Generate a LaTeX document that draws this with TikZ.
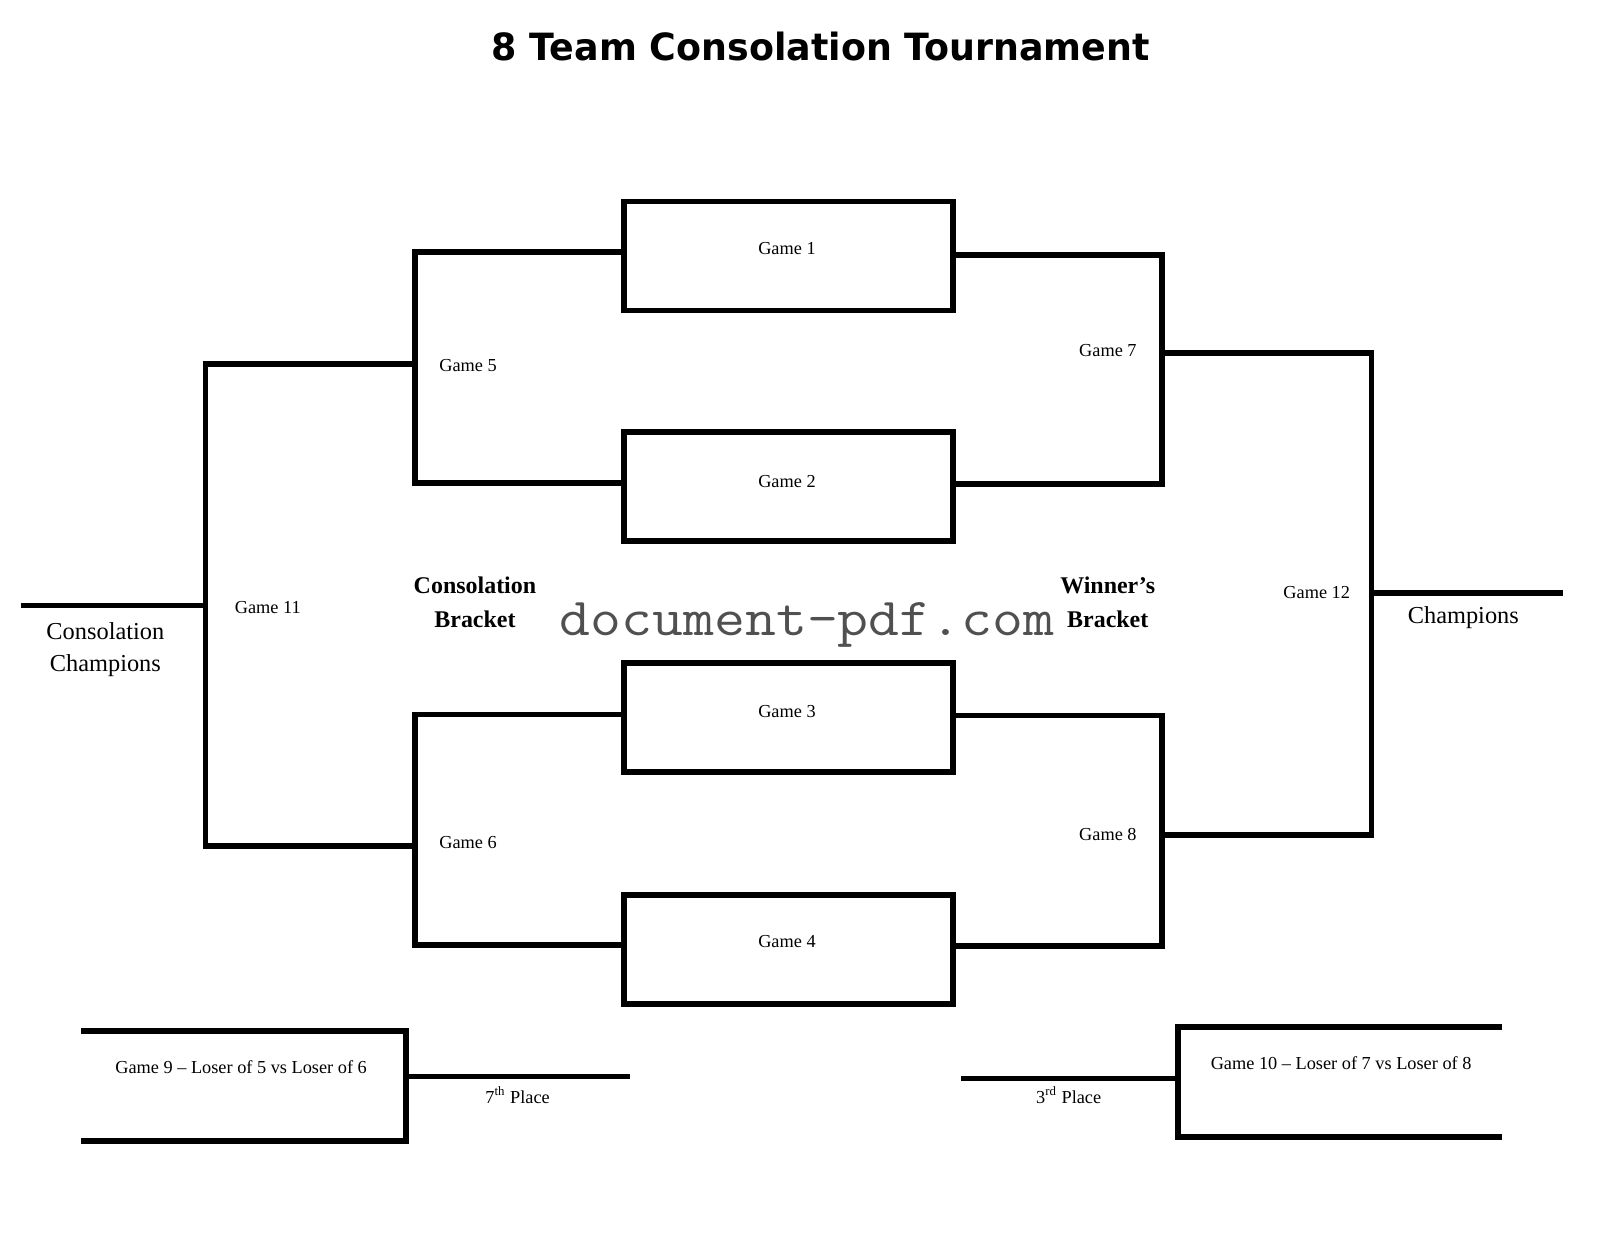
\documentclass[tikz,border=0pt]{standalone}
\usepackage{fontspec}
\setmainfont{Liberation Serif}
\newfontfamily\titlefont{DejaVu Sans}
\definecolor{wmgray}{RGB}{80,80,80}
\begin{document}
\begin{tikzpicture}[x=0.5pt,y=-0.5pt,
  line/.style={line width=2.8pt,line join=miter},
  gbox/.style={draw,line width=2.8pt,rectangle,inner sep=0pt,minimum width=160pt,minimum height=53pt},
  lbl/.style={font=\fontsize{8.9pt}{10pt}\selectfont,inner sep=0pt},
  big/.style={font=\fontsize{11.85pt}{15.5pt}\selectfont,inner sep=0pt,align=center},
  bbig/.style={font=\fontsize{11.65pt}{16.5pt}\selectfont\bfseries,inner sep=0pt,align=center}]
\useasboundingbox (0,0) rectangle (1568,1212);

% title
\node[inner sep=0pt,anchor=base] (title) at (798.5,59)
  {\scalebox{0.97}[1]{\titlefont\bfseries\fontsize{18.25pt}{20pt}\selectfont 8 Team Consolation Tournament}};

% game boxes
\node[gbox] (g1) at (767,249) {};
\node[gbox] (g2) at (767,473) {};
\node[gbox] (g3) at (767,698) {};
\node[gbox] (g4) at (767,923.5) {};
\node[lbl,anchor=base] (t1) at (765.5,248) {Game 1};
\node[lbl,anchor=base] (t2) at (765.5,474) {Game 2};
\node[lbl,anchor=base] (t3) at (765.5,698) {Game 3};
\node[lbl,anchor=base] (t4) at (765.5,922) {Game 4};

% bracket corners
\coordinate (g5t) at (404,245);  \coordinate (g5b) at (404,470);
\coordinate (g6t) at (404,695);  \coordinate (g6b) at (404,919);
\coordinate (g7t) at (1130,248); \coordinate (g7b) at (1130,471);
\coordinate (g8t) at (1130,696); \coordinate (g8b) at (1130,920);
\coordinate (g11t) at (200,354); \coordinate (g11b) at (200,823);
\coordinate (g12t) at (1334,343); \coordinate (g12b) at (1334,812);
\coordinate (cc) at (20,589);
\coordinate (ch) at (1520.5,577);

% consolation side
\draw[line] (g1.west |- g5t) -- (g5t) -- (g5b) -- (g2.west |- g5b);
\draw[line] (g3.west |- g6t) -- (g6t) -- (g6b) -- (g4.west |- g6b);
\draw[line] (g5t |- g11t) -- (g11t) -- (g11b) -- (g6t |- g11b);
\draw[line] (cc) -- (g11t |- cc);

% winner side
\draw[line] (g1.east |- g7t) -- (g7t) -- (g7b) -- (g2.east |- g7b);
\draw[line] (g3.east |- g8t) -- (g8t) -- (g8b) -- (g4.east |- g8b);
\draw[line] (g7t |- g12t) -- (g12t) -- (g12b) -- (g8t |- g12b);
\draw[line] (g12t |- ch) -- (ch);

% game labels
\node[lbl,anchor=base west] (t5) at (427,361) {Game 5};
\node[lbl,anchor=base west] (t6) at (427,825) {Game 6};
\node[lbl,anchor=base east] (t7) at (1106,347) {Game 7};
\node[lbl,anchor=base east] (t8) at (1106,818) {Game 8};
\node[lbl,anchor=base west] (t11) at (228,597) {Game 11};
\node[lbl,anchor=base west] (t12) at (1248,582) {Game 12};

\node[big,anchor=base] (cc1) at (102.5,622) {Consolation};
\node[big,anchor=base] (cc2) at (102.5,653) {Champions};
\node[big,anchor=base west] (chl) at (1369,606) {Champions};

\node[bbig,anchor=base] (cb1) at (462,577) {Consolation};
\node[bbig,anchor=base] (cb2) at (462,610) {Bracket};
\node[bbig,anchor=base] (wb1) at (1077.5,577) {Winner’s};
\node[bbig,anchor=base] (wb2) at (1077.5,610) {Bracket};

% watermark
\node[inner sep=0pt,anchor=base,text=wmgray] (wm) at (785,618)
  {\scalebox{1}[0.89]{\ttfamily\fontsize{29.2pt}{32pt}\selectfont document-pdf.com}};

% game 9 / 7th place
\coordinate (g9a) at (79,1003);  \coordinate (g9b) at (395,1003);
\coordinate (g9c) at (395,1110); \coordinate (g9d) at (79,1110);
\coordinate (p7) at (613,1047);
\draw[line] (g9a) -- (g9b) -- (g9c) -- (g9d);
\draw[line] (g9b |- p7) -- (p7);
\node[lbl,anchor=base] (t9) at (234.5,1044) {Game 9 – Loser of 5 vs Loser of 6};
\node[lbl,anchor=base] (t7p) at (503.5,1073) {7\textsuperscript{th} Place};

% game 10 / 3rd place
\coordinate (g10a) at (1461,999);  \coordinate (g10b) at (1146,999);
\coordinate (g10c) at (1146,1106); \coordinate (g10d) at (1461,1106);
\coordinate (p3) at (935,1049);
\draw[line] (g10a) -- (g10b) -- (g10c) -- (g10d);
\draw[line] (p3) -- (g10b |- p3);
\node[lbl,anchor=base] (t10) at (1304.5,1040) {Game 10 – Loser of 7 vs Loser of 8};
\node[lbl,anchor=base] (t3p) at (1039.5,1073) {3\textsuperscript{rd} Place};
\end{tikzpicture}
\end{document}
